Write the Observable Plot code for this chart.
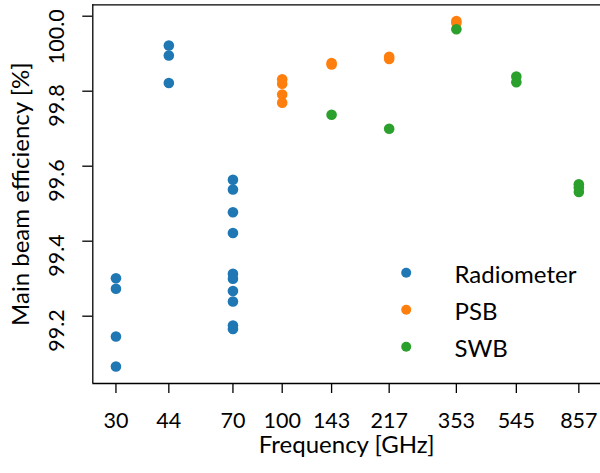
<!DOCTYPE html>
<html>
<head>
<meta charset="utf-8">
<script src="https://cdn.jsdelivr.net/npm/d3@7"></script>
<script src="https://cdn.jsdelivr.net/npm/@observablehq/plot@0.6"></script>
<style>
  html, body { margin: 0; padding: 0; background: #fff; }
  #chart svg { display: block; }
</style>
</head>
<body>
<div id="chart"></div>
<script>
// ---- Data ----
const seriesNames = ["Radiometer", "PSB", "SWB"];
const seriesColors = ["#1f77b4", "#ff7f0e", "#2ca02c"];

const radiometerFreq = [30, 30, 30, 30, 44, 44, 44, 70, 70, 70, 70, 70, 70, 70, 70, 70, 70];
const radiometerEff  = [99.301, 99.273, 99.146, 99.066, 99.922, 99.895, 99.822,
                        99.564, 99.538, 99.477, 99.422, 99.313, 99.300, 99.267, 99.239, 99.175, 99.166];

const psbFreq = [100, 100, 100, 100, 143, 143, 217, 217, 353, 353];
const psbEff  = [99.832, 99.820, 99.791, 99.769, 99.875, 99.871, 99.892, 99.886, 99.987, 99.982];

const swbFreq = [143, 217, 353, 545, 545, 857, 857, 857];
const swbEff  = [99.737, 99.700, 99.965, 99.839, 99.824, 99.552, 99.543, 99.531];

const xTicks = [30, 44, 70, 100, 143, 217, 353, 545, 857];
const yTicks = [99.2, 99.4, 99.6, 99.8, 100.0];
const xLabel = "Frequency [GHz]";
const yLabel = "Main beam efficiency [%]";

// ---- Build table ----
const rows = [];
radiometerFreq.forEach((f, i) => rows.push({series: "Radiometer", freq: f, eff: radiometerEff[i]}));
psbFreq.forEach((f, i) => rows.push({series: "PSB", freq: f, eff: psbEff[i]}));
swbFreq.forEach((f, i) => rows.push({series: "SWB", freq: f, eff: swbEff[i]}));

const FONT = "Lato, 'Open Sans', sans-serif";
const FS = 24;      // labels & legend
const FS_TICK = 21.5; // tick labels
const xDomain = [25.37, 1013.5];
const yDomain = [99.0205, 100.0304];

const legendMarks = seriesNames.flatMap((name, i) => [
  Plot.dot([name], {frameAnchor: "top-left", dx: 313.4, dy: 268 + 37 * i, r: 5, fill: d => d}),
  Plot.text([name], {frameAnchor: "top-left", dx: 361.7, dy: 278.4 + 37 * i, text: d => d,
                     textAnchor: "start", lineAnchor: "bottom", fontSize: FS, fill: "#000"})
]);

const chart = Plot.plot({
  width: 600,
  height: 473,
  marginLeft: 92.3,
  marginRight: 0,
  marginTop: 4.3,
  marginBottom: 90,
  style: {fontFamily: FONT, fontSize: FS + "px", background: "#fff", color: "#000"},
  x: {type: "log", domain: xDomain, range: [92.3, 601.5], axis: null},
  y: {domain: yDomain, axis: null},
  color: {domain: seriesNames, range: seriesColors},
  marks: [
    // spines
    Plot.ruleX([xDomain[0]], {stroke: "#000", strokeWidth: 1.3}),
    Plot.ruleY([yDomain[0]], {stroke: "#000", strokeWidth: 1.3}),
    Plot.ruleY([yDomain[1]], {stroke: "#000", strokeWidth: 1.3}),
    // ticks
    Plot.axisX({ticks: xTicks, tickSize: 10, tickFormat: () => "", stroke: "#000", strokeWidth: 1.3, label: null}),
    Plot.axisY({ticks: yTicks, tickSize: 10, tickFormat: () => "", stroke: "#000", strokeWidth: 1.3, label: null}),
    // tick labels
    Plot.text(xTicks, {x: d => d, frameAnchor: "bottom", dy: 44.3, lineAnchor: "bottom",
                       text: d => String(d), fontSize: FS_TICK, fill: "#000"}),
    Plot.text(yTicks, {y: d => d, frameAnchor: "left", dx: -29.3, dy: -7, rotate: -90,
                       textAnchor: "end", lineAnchor: "bottom",
                       text: d => d.toFixed(1), fontSize: FS_TICK, fill: "#000"}),
    // axis labels
    Plot.text([xLabel], {frameAnchor: "bottom", dy: 69.5, lineAnchor: "bottom", text: d => d,
                         fontSize: FS, fill: "#000"}),
    Plot.text([yLabel], {frameAnchor: "left", dx: -64.3, rotate: -90, lineAnchor: "bottom",
                         textAnchor: "middle", text: d => d, fontSize: FS, fill: "#000"}),
    // data
    Plot.dot(rows, {x: "freq", y: "eff", fill: "series", r: 5.3}),
    ...legendMarks
  ]
});

document.getElementById("chart").appendChild(chart);
</script>
</body>
</html>
